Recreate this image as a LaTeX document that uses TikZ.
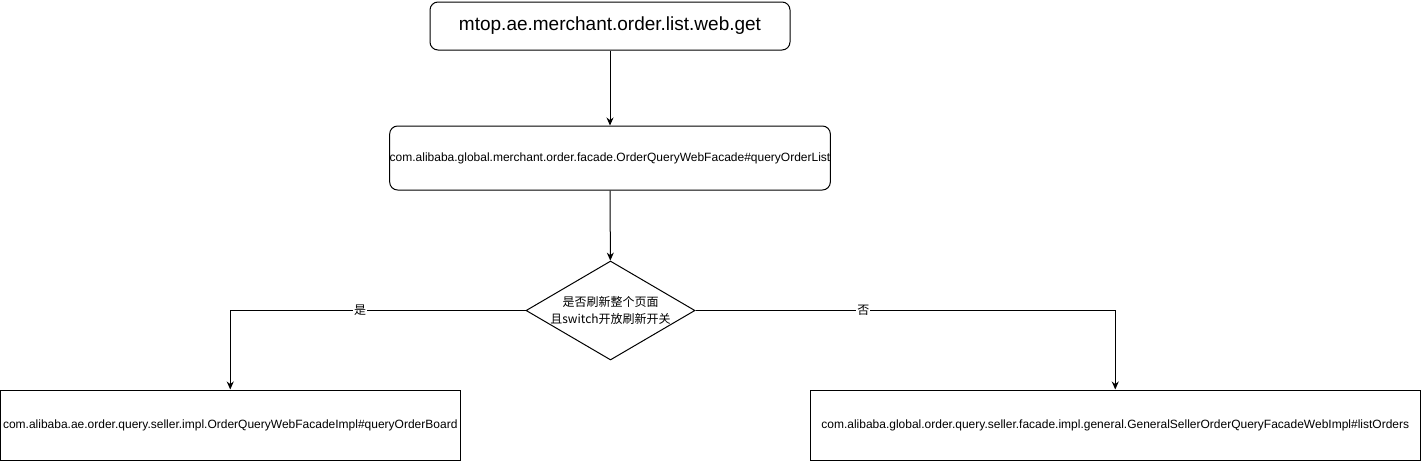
\documentclass[tikz,border=0pt]{standalone}
\usepackage{fontspec}
\setmainfont{Liberation Sans}
\newfontfamily\cjk{Noto Sans CJK SC}
\usetikzlibrary{shapes.geometric,arrows.meta}

\begin{document}
\begin{tikzpicture}[x=1pt,y=-1pt,line width=1pt,
    proc/.style={draw,rounded corners=8pt,inner sep=0pt},
    impl/.style={draw,inner sep=0pt,minimum height=70.5pt,font=\fontsize{12}{14}\selectfont},
    cond/.style={draw,diamond,inner sep=0pt,aspect=1.7,minimum width=169pt,minimum height=99pt,
      align=center,font=\cjk\fontsize{12}{17}\selectfont},
    lbl/.style={fill=white,inner sep=1pt,font=\cjk\fontsize{12}{14}\selectfont}]
      \useasboundingbox (0,0) rectangle (1421,461);
      \draw
        (610,26) node[proc,minimum width=360pt,minimum height=48pt,font=\fontsize{19}{22}\selectfont] (0){mtop.ae.merchant.order.list.web.get}
        (610,158) node[proc,minimum width=440pt,minimum height=64pt,font=\fontsize{12}{14}\selectfont] (1){com.alibaba.global.merchant.order.facade.OrderQueryWebFacade\#queryOrderList}
        (610.5,310.5) node[cond] (2){是否刷新整个页面\\且switch开放刷新开关}
        (230.25,425.25) node[impl,minimum width=459.5pt] (3){com.alibaba.ae.order.query.seller.impl.OrderQueryWebFacadeImpl\#queryOrderBoard}
        (1115.25,425.25) node[impl,minimum width=610.5pt] (4){com.alibaba.global.order.query.seller.facade.impl.general.GeneralSellerOrderQueryFacadeWebImpl\#listOrders};
      \begin{scope}[-{Stealth[length=8pt,width=7pt]}]
        \draw (0) to (1);
        \draw (1) to (2);
        \draw (2.west) -| node[lbl,pos=0.28] {是} (3.north);
        \draw (2.east) -| node[lbl,pos=0.2] {否} (4.north);
      \end{scope}
    \end{tikzpicture}
\end{document}
